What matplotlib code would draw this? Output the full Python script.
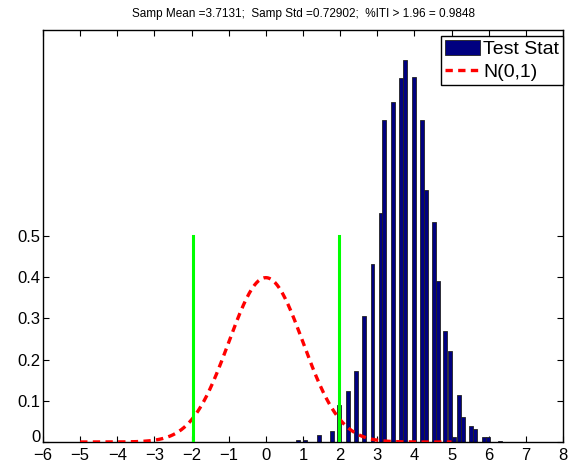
import numpy as np
import matplotlib
matplotlib.use("Agg")
import matplotlib.pyplot as plt

plt.rcParams['font.family'] = ['Liberation Sans', 'DejaVu Sans']

# Histogram of test statistic (bar centres and normalised heights)
bin_centers = [0.87, 1.05, 1.43, 1.77, 1.97, 2.21, 2.43, 2.64, 2.87, 3.09, 3.19,
               3.42, 3.64, 3.75, 3.98, 4.20, 4.30, 4.53, 4.64, 4.82, 4.96, 5.06,
               5.20, 5.31, 5.52, 5.64, 5.87, 5.99, 6.30]
bin_heights = [0.005, 0.004, 0.016, 0.027, 0.091, 0.125, 0.173, 0.305, 0.431, 0.556, 0.782,
               0.826, 0.884, 0.928, 0.886, 0.781, 0.611, 0.535, 0.390, 0.270, 0.220, 0.013,
               0.114, 0.060, 0.040, 0.032, 0.013, 0.013, 0.003]

crit = 1.96
crit_height = 0.5
title_text = "Samp Mean =3.7131;  Samp Std =0.72902;  %ITI > 1.96 = 0.9848"
xticks = list(range(-6, 9))
yticks = [0, 0.1, 0.2, 0.3, 0.4, 0.5]
ytick_labels = ["0", "0.1", "0.2", "0.3", "0.4", "0.5"]

fig = plt.figure(figsize=(5.68, 4.66), dpi=100)
ax = fig.add_axes([43/568, 24/466, 520/568, 412/466])

bars = ax.bar(bin_centers, bin_heights, width=0.105, color='#000080', edgecolor='#222222',
              linewidth=0.6, label='Test Stat', zorder=2)

xn = np.linspace(-5, 5, 401)
yn = np.exp(-xn**2 / 2) / np.sqrt(2 * np.pi)
line, = ax.plot(xn, yn, color='red', linestyle=(0, (2.2, 1.6)), linewidth=2.4,
                label='N(0,1)', zorder=3)

ax.plot([-crit, -crit], [0, crit_height], color='#00ff00', linewidth=2.2, zorder=4)
ax.plot([crit, crit], [0, crit_height], color='#00ff00', linewidth=2.2, zorder=4)

ax.set_xlim(-6, 8)
ax.set_ylim(0, 1)
ax.set_xticks(xticks)
ax.set_xticklabels([("\u2212" + str(-t)) if t < 0 else str(t) for t in xticks])
ax.set_yticks(yticks)
ax.set_yticklabels(ytick_labels)
ax.tick_params(direction='in', length=4, width=0.8, top=True, right=True,
               labelsize=12, pad=2)
ax.tick_params(axis='x', pad=4)
ax.get_yticklabels()[0].set_verticalalignment('baseline')
for s in ax.spines.values():
    s.set_linewidth(1.0)

ax.set_title(title_text, fontsize=8.5, pad=9)

leg = ax.legend(handles=[bars, line], loc='upper right',
                bbox_to_anchor=(1.0, 1 - 5.7/412), borderaxespad=0.0,
                fontsize=14, frameon=True, fancybox=False,
                handlelength=1.8, handleheight=0.85, handletextpad=0.15,
                borderpad=0.2, labelspacing=0.25)
leg.get_frame().set_edgecolor('black')
leg.get_frame().set_linewidth(1.0)
leg.get_frame().set_alpha(1)

fig.savefig("out.png", dpi=100)
